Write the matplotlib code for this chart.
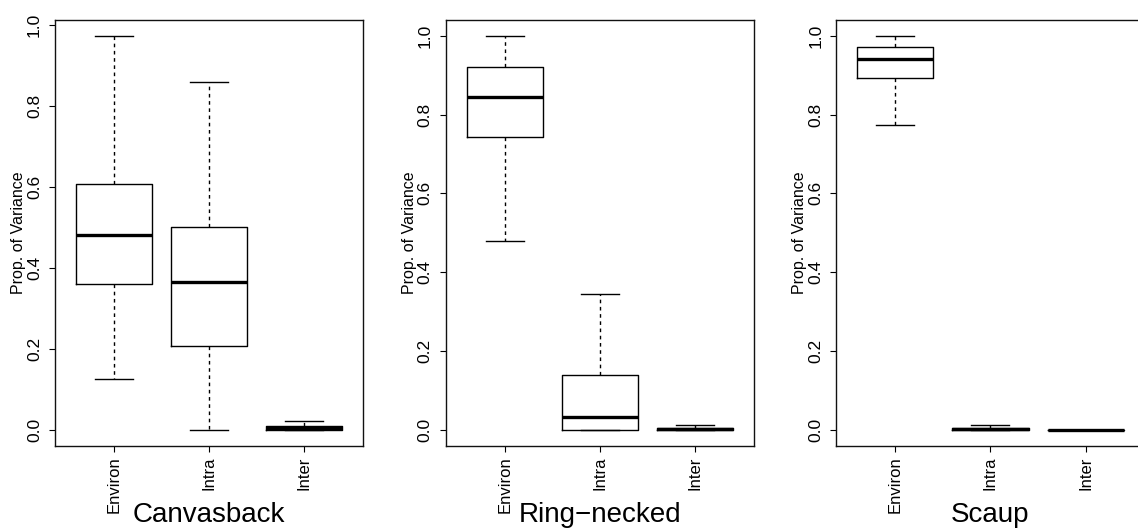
import matplotlib
matplotlib.use("Agg")
import matplotlib.pyplot as plt
from matplotlib.ticker import FixedLocator, FormatStrFormatter

plt.rcParams['font.family'] = ['Liberation Sans', 'DejaVu Sans']

# ---------------- data ----------------
species = ["Canvasback", "Ring\u2212necked", "Scaup"]
components = ["Environ", "Intra", "Inter"]

canvasback_whislo = [0.126, 0.000, 0.000]
canvasback_q1     = [0.361, 0.207, 0.000]
canvasback_med    = [0.481, 0.364, 0.004]
canvasback_q3     = [0.606, 0.502, 0.009]
canvasback_whishi = [0.973, 0.859, 0.021]

ringneck_whislo = [0.479, 0.000, 0.000]
ringneck_q1     = [0.744, 0.000, 0.000]
ringneck_med    = [0.845, 0.034, 0.0015]
ringneck_q3     = [0.921, 0.139, 0.004]
ringneck_whishi = [1.000, 0.346, 0.012]

scaup_whislo = [0.774, 0.000, 0.000]
scaup_q1     = [0.892, 0.000, 0.000]
scaup_med    = [0.941, 0.002, 0.000]
scaup_q3     = [0.972, 0.005, 0.001]
scaup_whishi = [1.000, 0.012, 0.001]

y_ticks = [0.0, 0.2, 0.4, 0.6, 0.8, 1.0]
y_label = "Prop. of Variance"

panels = [
    (canvasback_whislo, canvasback_q1, canvasback_med, canvasback_q3, canvasback_whishi),
    (ringneck_whislo, ringneck_q1, ringneck_med, ringneck_q3, ringneck_whishi),
    (scaup_whislo, scaup_q1, scaup_med, scaup_q3, scaup_whishi),
]

# ---------------- layout ----------------
W, H = 1138, 529
fig = plt.figure(figsize=(W / 100, H / 100), dpi=100)

ax_w_px = 308.3
ax_top_px = 20.0
ax_bot_px = 445.7
lefts_px = [55.0, 445.7, 836.3]

for i, (lefts, stats_arrays) in enumerate(zip(lefts_px, panels)):
    wlo, q1, med, q3, whi = stats_arrays
    ax = fig.add_axes([lefts / W, (H - ax_bot_px) / H, ax_w_px / W,
                       (ax_bot_px - ax_top_px) / H])
    stats = []
    for k, comp in enumerate(components):
        stats.append(dict(label=comp, whislo=wlo[k], q1=q1[k], med=med[k],
                          q3=q3[k], whishi=whi[k], fliers=[]))
    positions = list(range(1, len(components) + 1))
    ax.bxp(stats, positions=positions, widths=0.8, showfliers=False,
           boxprops=dict(color='black', lw=1.0),
           medianprops=dict(color='black', lw=2.4, solid_capstyle='butt'),
           whiskerprops=dict(color='black', lw=1.0, linestyle=(0, (2.6, 2.6))),
           capprops=dict(color='black', lw=1.0))

    lo = min(wlo)
    hi = max(whi)
    r = hi - lo
    ax.set_ylim(lo - 0.04 * r, hi + 0.04 * r)
    ax.set_xlim(0.5 - 0.12, len(components) + 0.5 + 0.12)

    ax.yaxis.set_major_locator(FixedLocator(y_ticks))
    ax.yaxis.set_major_formatter(FormatStrFormatter('%.1f'))
    ax.set_xticks(positions)
    ax.set_xticklabels(components)

    ax.tick_params(axis='y', length=4.3, width=0.8, pad=5.0, labelsize=12.5,
                   labelrotation=90, direction='out')
    ax.tick_params(axis='x', length=4.3, width=0.8, pad=3.6, labelsize=12,
                   labelrotation=90, direction='out')
    for lab in ax.get_yticklabels():
        lab.set_va('center')
        lab.set_ha('right')
    for lab in ax.get_xticklabels():
        lab.set_va('top')
        lab.set_ha('center')

    for sp in ax.spines.values():
        sp.set_linewidth(1.0)
        sp.set_color('#111111')

    cx = (lefts + ax_w_px / 2) / W
    fig.text(cx, 1 - 522 / H, species[i], ha='center', va='baseline',
             fontsize=20)
    fig.text((lefts - 36.5) / W, 1 - ((ax_top_px + ax_bot_px) / 2) / H,
             y_label, rotation=90, ha='center', va='center', fontsize=11.5)

fig.savefig("out.png", dpi=100)
